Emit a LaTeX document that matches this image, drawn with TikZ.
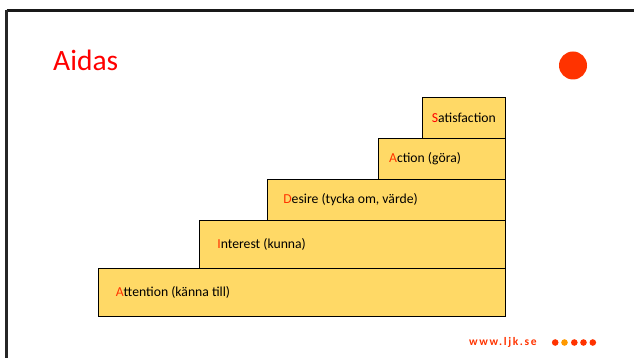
\documentclass[tikz,border=0pt]{standalone}
\usepackage{fontspec}
\setmainfont{Carlito}
\newfontfamily\webfont[LetterSpace=14]{Carlito Bold}
\definecolor{stepfill}{HTML}{FFD966}
\definecolor{accent}{HTML}{FF3300}
\definecolor{dotorange}{HTML}{FF9900}
\definecolor{titlered}{HTML}{FF0000}
\begin{document}
\begin{tikzpicture}[x=1pt,y=1pt,
  stepbox/.style={draw=black, line width=0.9pt, fill=stepfill, inner sep=0pt, anchor=south east},
  steptext/.style={anchor=west, inner sep=0pt, font=\fontsize{13.7}{16}\selectfont},
  dot/.style={circle, fill=accent, inner sep=0pt, minimum size=6.6pt}]
\useasboundingbox (0,0) rectangle (634,358);
\clip (0,0) rectangle (634,358);
% slide frame
\draw[line width=2.6pt, black!90] (6.5,347.5) -- (640,347.5);
\draw[line width=2.6pt, black!85] (6.5,347.5) -- (6.5,-10);
% title and corner mark
\node[anchor=base west, inner sep=0pt, text=titlered, font=\fontsize{29.5}{32}\selectfont] (title) at (53,287.3) {Aidas};
\node[circle, fill=accent, inner sep=0pt, minimum size=28pt] (mark) at (573,292.5) {};
% staircase
\node[stepbox, minimum width=407pt, minimum height=48pt] (att) at (506,41) {};
\node[stepbox, minimum width=306pt, minimum height=48pt] (int) at (506,89) {};
\node[stepbox, minimum width=238.5pt, minimum height=41pt] (des) at (506,137) {};
\node[stepbox, minimum width=126.7pt, minimum height=41pt] (act) at (506,178) {};
\node[stepbox, minimum width=82.7pt, minimum height=41pt] (sat) at (506,219.5) {};
\node[steptext] (attT) at ([xshift=17.5pt]att.west) {\textcolor{accent}{A}ttention (känna till)};
\node[steptext] (intT) at ([xshift=18pt]int.west) {\textcolor{accent}{I}nterest (kunna)};
\node[steptext] (desT) at ([xshift=16.5pt]des.west) {\textcolor{accent}{D}esire (tycka om, värde)};
\node[steptext] (actT) at ([xshift=10.5pt]act.west) {\textcolor{accent}{A}ction (göra)};
\node[steptext] (satT) at ([xshift=9.3pt]sat.west) {\textcolor{titlered}{S}atisfaction};
% footer
\node[anchor=west, inner sep=0pt, text=accent, font=\webfont\fontsize{11.5}{13}\selectfont] (web) at (469,15.5) {www.ljk.se};
\node[dot] (d1) at (555.2,15.5) {};
\node[dot, fill=dotorange] (d2) at (564.5,15.5) {};
\node[dot] (d3) at (574.3,15.5) {};
\node[dot] (d4) at (583.5,15.5) {};
\node[dot] (d5) at (592.8,15.5) {};
\end{tikzpicture}
\end{document}
